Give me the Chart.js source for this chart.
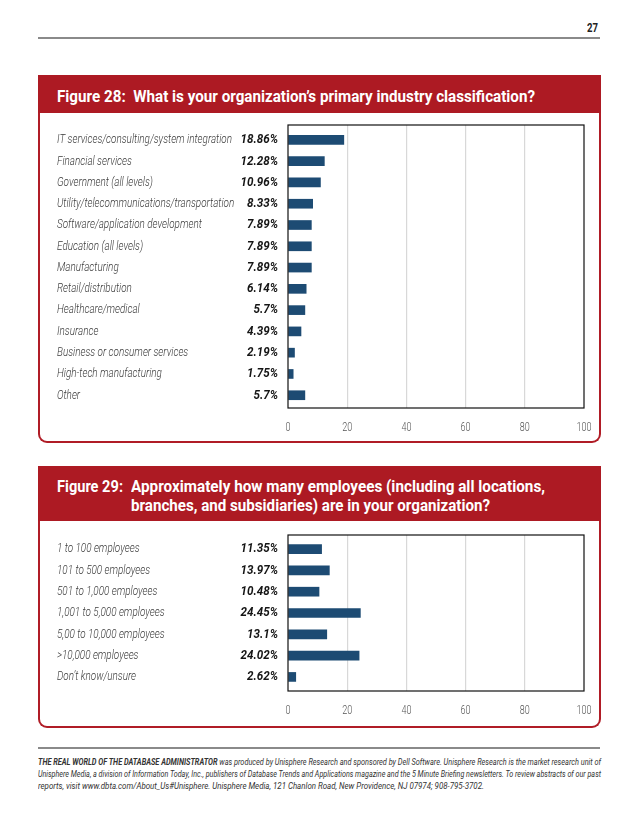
<!DOCTYPE html>
<html><head><meta charset="utf-8">
<script src="https://cdn.jsdelivr.net/npm/chart.js@4"></script>
<style>
html,body{margin:0;padding:0;background:#fff;}
body{width:638px;height:826px;position:relative;overflow:hidden;font-family:Roboto,'Open Sans',sans-serif;}
.abs{position:absolute;}
.fit{position:absolute;white-space:nowrap;display:inline-block;transform-origin:0 50%;line-height:1;}
.rule{position:absolute;left:38px;width:562px;height:2px;background:#8a8a8a;}
.hdr{position:absolute;left:38px;width:563px;background:#ad1a23;}
.body{position:absolute;left:38px;width:563px;box-sizing:border-box;border:2px solid #b01c26;border-top:none;border-radius:0 0 9px 9px;background:#fff;}
.ht{color:#fff;font-weight:bold;font-size:17px;}
.ft{font-size:8.6px;font-style:italic;color:#333;}
canvas{display:block;}
</style></head>
<body>
<div class="fit" data-w="11" data-right="598" style="top:22px;font-weight:bold;font-size:12px;color:#222;">27</div>
<div class="rule" style="top:37px"></div>

<div class="hdr" style="top:75px;height:38px;"></div>
<div class="body" style="top:113px;height:330px;"></div>
<div class="fit ht" data-w="478" style="left:57px;top:88px;">Figure 28:&nbsp; What is your organization’s primary industry classification?</div>
<div class="abs" style="left:38px;top:113px;width:562px;height:328px;"><canvas id="c1"></canvas></div>

<div class="hdr" style="top:466px;height:55px;"></div>
<div class="body" style="top:521px;height:207px;"></div>
<div class="fit ht" data-w="66" style="left:57px;top:478px;">Figure 29:</div>
<div class="fit ht" data-w="414" style="left:131px;top:478px;">Approximately how many employees (including all locations,</div>
<div class="fit ht" data-w="359" style="left:131px;top:497px;">branches, and subsidiaries) are in your organization?</div>
<div class="abs" style="left:38px;top:521px;width:562px;height:205px;"><canvas id="c2"></canvas></div>

<div class="rule" style="top:747px"></div>
<div class="fit ft" data-w="563" style="left:38px;top:758px;"><b>THE REAL WORLD OF THE DATABASE ADMINISTRATOR</b> was produced by Unisphere Research and sponsored by Dell Software. Unisphere Research is the market research unit of</div>
<div class="fit ft" data-w="563" style="left:38px;top:770px;">Unisphere Media, a division of Information Today, Inc., publishers of Database Trends and Applications magazine and the 5 Minute Briefing newsletters. To review abstracts of our past</div>
<div class="fit ft" data-w="446" style="left:38px;top:782px;">reports, visit www.dbta.com/About_Us#Unisphere. Unisphere Media, 121 Chanlon Road, New Providence, NJ 07974; 908-795-3702.</div>

<script>
const industryLabels = ["IT services/consulting/system integration","Financial services","Government (all levels)","Utility/telecommunications/transportation","Software/application development","Education (all levels)","Manufacturing","Retail/distribution","Healthcare/medical","Insurance","Business or consumer services","High-tech manufacturing","Other"];
const industryValues = [18.86,12.28,10.96,8.33,7.89,7.89,7.89,6.14,5.7,4.39,2.19,1.75,5.7];

const employeeLabels = ["1 to 100 employees","101 to 500 employees","501 to 1,000 employees","1,001 to 5,000 employees","5,00 to 10,000 employees",">10,000 employees","Don’t know/unsure"];
const employeeValues = [11.35,13.97,10.48,24.45,13.1,24.02,2.62];

const xTicks = [0,20,40,60,80,100];

// fit HTML text widths (condensed look)
document.querySelectorAll('.fit').forEach(el=>{
  const w = parseFloat(el.dataset.w);
  const nat = el.getBoundingClientRect().width;
  el.style.transform = 'scaleX(' + (w/nat) + ')';
  if (el.dataset.right) el.style.left = (parseFloat(el.dataset.right) - w) + 'px';
});

const FONT = "Roboto,'Open Sans',sans-serif";
const BAR = '#1d4b73';
const LABEL_FONT = 'italic 300 13.5px ' + FONT;
const VALUE_FONT = 'italic bold 13.5px ' + FONT;
const TICK_FONT = '300 13px ' + FONT;

function drawSquashed(ctx, text, x, y, k, align){
  ctx.save();
  ctx.translate(x, y);
  ctx.scale(k, 1);
  ctx.textAlign = align;
  ctx.fillText(text, 0, 0);
  ctx.restore();
}

const sidePlugin = {
  id:'side',
  afterDraw(chart){
    const ctx = chart.ctx, ys = chart.scales.y, xs = chart.scales.x, ca = chart.chartArea;
    const labels = chart.data.labels, vals = chart.data.datasets[0].data;
    ctx.save();
    ctx.textBaseline = 'middle';
    ctx.font = LABEL_FONT;
    const kL = 175 / ctx.measureText(industryLabels[0]).width;
    ctx.font = VALUE_FONT;
    const kV = 37.5 / ctx.measureText('18.86%').width;
    ctx.font = TICK_FONT;
    const kT = 15 / ctx.measureText('100').width;
    labels.forEach((lab,i)=>{
      const yy = ys.getPixelForValue(i);
      ctx.fillStyle = '#3a3a3a';
      ctx.font = LABEL_FONT;
      drawSquashed(ctx, lab, 19, yy, kL, 'left');
      ctx.fillStyle = '#151515';
      ctx.font = VALUE_FONT;
      drawSquashed(ctx, vals[i].x + '%', ca.left - 10, yy, kV, 'right');
    });
    ctx.fillStyle = '#555';
    ctx.font = TICK_FONT;
    xTicks.forEach(v=>{
      drawSquashed(ctx, String(v), xs.getPixelForValue(v), ca.bottom + 20, kT, 'center');
    });
    ctx.strokeStyle = '#111';
    ctx.lineWidth = 1.2;
    ctx.strokeRect(ca.left, ca.top, ca.right - ca.left, ca.bottom - ca.top);
    ctx.restore();
  }
};

function makeChart(id, labels, values, pad, yMin, yMax){
  new Chart(document.getElementById(id), {
    type:'bar',
    data:{labels:labels, datasets:[{data:values.map((v,i)=>({x:v, y:i})), backgroundColor:BAR, borderWidth:0, barThickness:9}]},
    options:{
      indexAxis:'y', responsive:true, maintainAspectRatio:false, animation:false,
      layout:{padding:pad},
      plugins:{legend:{display:false}, tooltip:{enabled:false}},
      scales:{
        x:{type:'linear', min:0, max:100, offset:false,
           afterBuildTicks(ax){ ax.ticks = xTicks.map(v=>({value:v})); },
           grid:{color:(c)=> (c.tick && (c.tick.value===0||c.tick.value===100)) ? 'rgba(0,0,0,0)' : '#d8d8d8', lineWidth:1.2, drawTicks:false, offset:false},
           border:{display:false},
           ticks:{display:false}},
        y:{type:'linear', reverse:true, min:yMin, max:yMax, offset:false, display:false, grid:{display:false, offset:false}}
      }
    },
    plugins:[sidePlugin]
  });
}

makeChart('c1', industryLabels, industryValues, {left:250, right:16, top:12, bottom:33}, -0.7, 12.6);
makeChart('c2', employeeLabels, employeeValues, {left:250, right:16, top:14, bottom:35}, -0.66, 6.66);
</script>
</body></html>
